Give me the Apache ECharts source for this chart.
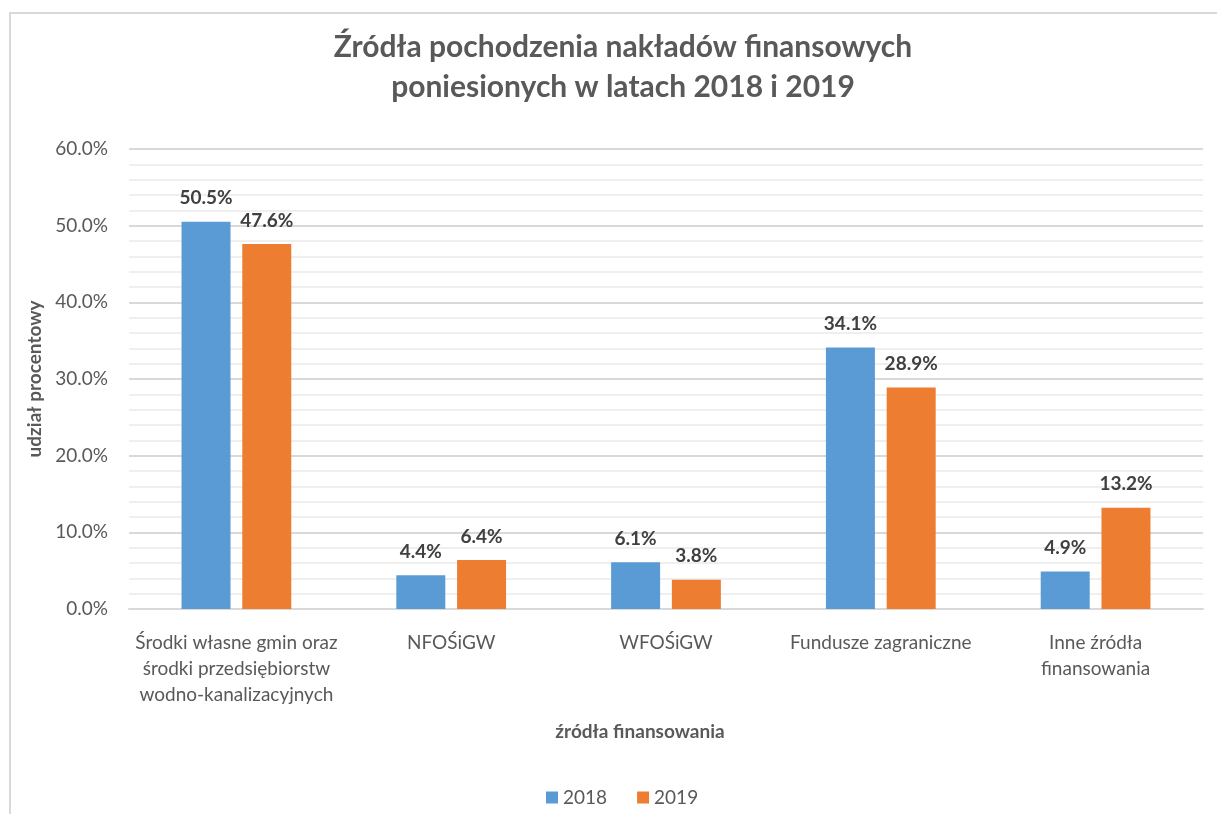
<!DOCTYPE html>
<html>
<head>
<meta charset="utf-8">
<script src="https://cdn.jsdelivr.net/npm/echarts@6/dist/echarts.min.js"></script>
<style>
html,body{margin:0;padding:0;background:#fff;}
#frame{position:absolute;left:9px;top:12px;width:1230px;height:820px;border:2px solid #d9d9d9;box-sizing:border-box;}
#chart{position:absolute;left:0;top:0;width:1217px;height:814px;}
</style>
</head>
<body>
<div id="frame"></div>
<div id="chart"></div>
<script>
const categories = [
  'Środki własne gmin oraz\nśrodki przedsiębiorstw\nwodno-kanalizacyjnych',
  'NFOŚiGW',
  'WFOŚiGW',
  'Fundusze zagraniczne',
  'Inne źródła\nfinansowania'
];
const values2018 = [50.5, 4.4, 6.1, 34.1, 4.9];
const values2019 = [47.6, 6.4, 3.8, 28.9, 13.2];
const seriesNames = ['2018', '2019'];
const titleText = 'Źródła pochodzenia nakładów finansowych\nponiesionych w latach 2018 i 2019';
const yAxisName = 'udział procentowy';
const xAxisName = 'źródła finansowania';

const FONT = 'Lato, "Liberation Sans", sans-serif';
const chart = echarts.init(document.getElementById('chart'), null, {renderer: 'canvas'});
const labelOpt = {
  show: true, position: 'top', distance: 14,
  formatter: p => p.value.toFixed(1) + '%',
  fontFamily: FONT, fontWeight: 'bold', fontSize: 19, color: '#404040'
};
chart.setOption({
  animation: false,
  backgroundColor: 'transparent',
  title: [{
    text: titleText, left: 618, top: 22, textAlign: 'center',
    textStyle: {fontFamily: FONT, fontWeight: 'bold', fontSize: 30, color: '#595959', lineHeight: 40}
  }, {
    text: xAxisName, left: 635, top: 717, textAlign: 'center',
    textStyle: {fontFamily: FONT, fontWeight: 'bold', fontSize: 19, color: '#595959'}
  }],
  legend: {
    data: seriesNames, left: 541, top: 783, itemWidth: 12, itemHeight: 12, itemGap: 30,
    icon: 'rect',
    textStyle: {fontFamily: FONT, fontSize: 19, color: '#595959'}
  },
  grid: {left: 129, right: 14, top: 149, bottom: 205, containLabel: false},
  xAxis: {
    type: 'category', data: categories,
    axisLine: {lineStyle: {color: '#d9d9d9', width: 2}},
    axisTick: {show: false},
    axisLabel: {fontFamily: FONT, fontSize: 19, color: '#595959', lineHeight: 26, margin: 21, interval: 0}
  },
  yAxis: {
    type: 'value', min: 0, max: 60, interval: 10,
    name: yAxisName, nameLocation: 'middle', nameGap: 84, nameRotate: 90,
    nameTextStyle: {fontFamily: FONT, fontWeight: 'bold', fontSize: 19, color: '#595959'},
    axisLine: {show: false}, axisTick: {show: false},
    axisLabel: {fontFamily: FONT, fontSize: 19, color: '#595959', margin: 21, formatter: v => v.toFixed(1) + '%'},
    splitLine: {lineStyle: {color: '#d9d9d9', width: 2}},
    minorTick: {show: false, splitNumber: 5},
    minorSplitLine: {show: true, lineStyle: {color: '#efefef', width: 2}}
  },
  series: [{
    name: seriesNames[0], type: 'bar', data: values2018, barWidth: 49, barGap: '24%',
    itemStyle: {color: '#5b9bd5'}, label: labelOpt
  }, {
    name: seriesNames[1], type: 'bar', data: values2019, barWidth: 49,
    itemStyle: {color: '#ed7d31'}, label: labelOpt
  }]
});
</script>
</body>
</html>
